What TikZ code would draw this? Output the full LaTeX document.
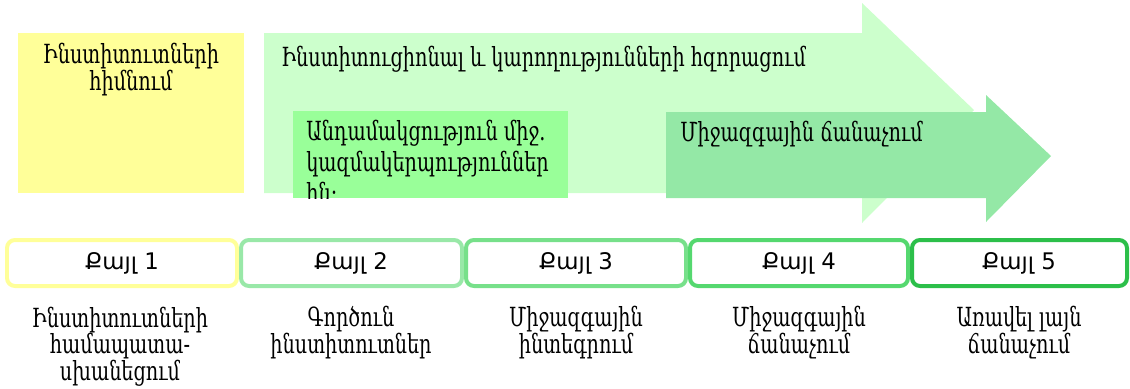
\documentclass[tikz,border=0pt]{standalone}
\usepackage{fontspec}
\setmainfont[FakeStretch=0.73]{DejaVu Serif}
\newfontfamily\stepfont{DejaVu Sans}
\definecolor{paleyellow}{HTML}{FFFF99}
\definecolor{palegreen}{HTML}{CCFFCC}
\definecolor{brightgreen}{HTML}{99FF99}
\definecolor{midgreen}{HTML}{94E8A6}
\definecolor{stepA}{HTML}{FFFF99}
\definecolor{stepB}{HTML}{99E8A8}
\definecolor{stepC}{HTML}{77E08A}
\definecolor{stepD}{HTML}{55D86F}
\definecolor{stepE}{HTML}{2CBF4A}
\begin{document}
\begin{tikzpicture}[x=0.02cm, y=-0.02cm,
  phase/.style={font=\fontsize{15}{14.8}\selectfont, align=center, inner sep=0pt},
  stepbox/.style={line width=0.08cm, rounded corners=0.16cm, fill=white},
  steplabel/.style={font=\stepfont\fontsize{13}{15}\selectfont},
  stepnote/.style={anchor=base, font=\fontsize{15}{15}\selectfont, align=center, inner sep=0pt}]
\useasboundingbox (0, 0) rectangle (1130, 389);

% Phases above the steps (base = last line)
\fill[paleyellow] (18, 33) rectangle (244, 193);
\node[phase, anchor=base] (found) at (131, 90) {Ինստիտուտների\\հիմնում};
\fill[palegreen] (264, 33) -- (862, 33) -- (862, 3) -- (974, 110) -- (862, 223) -- (862, 193) -- (264, 193) -- cycle;
\node[phase, anchor=base west] (strength) at (281, 66) {Ինստիտուցիոնալ և կարողությունների հզորացում};
\fill[brightgreen] (293, 111) rectangle (568, 198);
\begin{scope}
\clip (293, 111) rectangle (568, 198);
\node[phase, anchor=base west, align=left, font=\fontsize{15}{17.5}\selectfont] (member) at (306, 202) {Անդամակցություն միջ.\\կազմակերպություններ\\ին։};
\end{scope}
\fill[midgreen] (666, 112) -- (986, 112) -- (986, 95) -- (1051, 156) -- (986, 222) -- (986, 198) -- (666, 198) -- cycle;
\node[phase, anchor=base west] (recog) at (680, 141) {Միջազգային ճանաչում};

% Steps
\draw[stepbox, draw=stepA] (7, 240) rectangle (237, 286);
\node[steplabel] (s1) at (122, 263) {Քայլ 1};
\draw[stepbox, draw=stepB] (241, 240) rectangle (462, 286);
\node[steplabel] (s2) at (351, 263) {Քայլ 2};
\draw[stepbox, draw=stepC] (466, 240) rectangle (686, 286);
\node[steplabel] (s3) at (576, 263) {Քայլ 3};
\draw[stepbox, draw=stepD] (690, 240) rectangle (908, 286);
\node[steplabel] (s4) at (799, 263) {Քայլ 4};
\draw[stepbox, draw=stepE] (912, 240) rectangle (1127, 286);
\node[steplabel] (s5) at (1019, 263) {Քայլ 5};

\node[stepnote] (n1) at (120, 380) {Ինստիտուտների\\համապատա-\\սխանեցում};
\node[stepnote] (n2) at (351, 353) {Գործուն\\ինստիտուտներ};
\node[stepnote] (n3) at (576, 353) {Միջազգային\\ինտեգրում};
\node[stepnote] (n4) at (799, 353) {Միջազգային\\ճանաչում};
\node[stepnote] (n5) at (1019, 353) {Առավել լայն\\ճանաչում};
\end{tikzpicture}
\end{document}
